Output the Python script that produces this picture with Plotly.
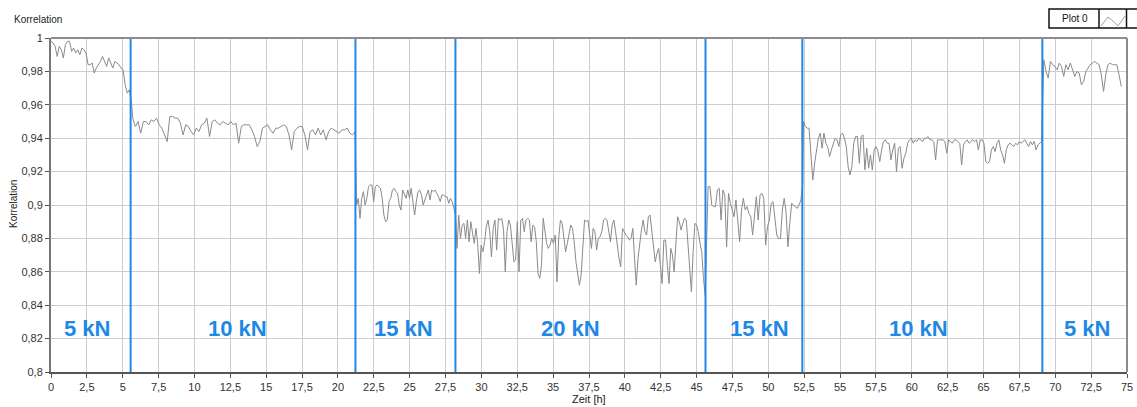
import numpy as np
import plotly.graph_objects as go

# ---------------- data ----------------
# correlation readings per load phase
seg_5kN_a = [0.998, 0.997, 0.995, 0.989, 0.995, 0.993, 0.988, 0.996, 0.998, 0.998, 0.992, 0.994, 0.991, 0.993,
             0.990, 0.994, 0.993, 0.991, 0.984, 0.984, 0.985, 0.979, 0.982, 0.984, 0.986, 0.989, 0.986, 0.983,
             0.988, 0.985, 0.982, 0.986, 0.985, 0.984, 0.982, 0.981, 0.972, 0.967, 0.969, 0.962]
seg_10kN_a = [0.952, 0.947, 0.950, 0.943, 0.950, 0.950, 0.948, 0.951, 0.950, 0.952, 0.948, 0.946, 0.942, 0.938,
              0.953, 0.953, 0.952, 0.952, 0.949, 0.942, 0.948, 0.947, 0.944, 0.942, 0.946, 0.944, 0.948, 0.949,
              0.952, 0.941, 0.950, 0.951, 0.949, 0.948, 0.950, 0.949, 0.948, 0.950, 0.948, 0.949, 0.937, 0.947,
              0.948, 0.948, 0.948, 0.945, 0.941, 0.935, 0.938, 0.946, 0.947, 0.948, 0.945, 0.943, 0.946, 0.946,
              0.947, 0.948, 0.947, 0.942, 0.933, 0.944, 0.946, 0.947, 0.947, 0.942, 0.933, 0.944, 0.945, 0.942,
              0.946, 0.942, 0.945, 0.939, 0.944, 0.946, 0.945, 0.944, 0.943, 0.945, 0.945, 0.946, 0.943, 0.942,
              0.944]
seg_15kN_a = [0.900, 0.904, 0.892, 0.904, 0.908, 0.900, 0.904, 0.911, 0.912, 0.912, 0.902, 0.911, 0.912, 0.911,
              0.910, 0.904, 0.894, 0.890, 0.891, 0.902, 0.904, 0.909, 0.910, 0.908, 0.907, 0.900, 0.897, 0.909,
              0.906, 0.904, 0.909, 0.904, 0.910, 0.900, 0.894, 0.902, 0.908, 0.909, 0.906, 0.900, 0.903, 0.907,
              0.909, 0.903, 0.909, 0.908, 0.909, 0.907, 0.905, 0.902, 0.906, 0.906, 0.905, 0.905, 0.901, 0.904,
              0.902, 0.898, 0.894]
seg_20kN = [0.874, 0.894, 0.880, 0.888, 0.889, 0.880, 0.891, 0.878, 0.890, 0.884, 0.877, 0.886, 0.877, 0.859,
            0.876, 0.872, 0.878, 0.887, 0.891, 0.884, 0.869, 0.886, 0.891, 0.873, 0.892, 0.891, 0.892, 0.885,
            0.860, 0.884, 0.891, 0.888, 0.876, 0.866, 0.867, 0.890, 0.860, 0.891, 0.892, 0.884, 0.891, 0.892,
            0.891, 0.878, 0.888, 0.887, 0.878, 0.859, 0.856, 0.864, 0.892, 0.884, 0.877, 0.874, 0.876, 0.880,
            0.877, 0.882, 0.854, 0.880, 0.891, 0.889, 0.880, 0.872, 0.877, 0.882, 0.888, 0.886, 0.878, 0.866,
            0.858, 0.852, 0.858, 0.876, 0.891, 0.890, 0.891, 0.882, 0.874, 0.886, 0.884, 0.873, 0.880, 0.881,
            0.884, 0.891, 0.892, 0.891, 0.884, 0.878, 0.888, 0.891, 0.884, 0.875, 0.868, 0.863, 0.886, 0.884,
            0.882, 0.881, 0.879, 0.880, 0.886, 0.868, 0.852, 0.868, 0.878, 0.885, 0.891, 0.884, 0.882, 0.893,
            0.894, 0.884, 0.873, 0.866, 0.871, 0.874, 0.864, 0.853, 0.879, 0.879, 0.864, 0.853, 0.874, 0.870,
            0.860, 0.876, 0.893, 0.890, 0.885, 0.889, 0.892, 0.891, 0.876, 0.858, 0.848, 0.872, 0.889, 0.888,
            0.884, 0.877, 0.872, 0.856, 0.846]
seg_15kN_b = [0.911, 0.911, 0.900, 0.899, 0.899, 0.909, 0.910, 0.891, 0.909, 0.906, 0.875, 0.907, 0.901, 0.897,
              0.893, 0.903, 0.891, 0.878, 0.897, 0.904, 0.897, 0.899, 0.895, 0.893, 0.882, 0.896, 0.905, 0.891,
              0.906, 0.907, 0.904, 0.876, 0.887, 0.891, 0.901, 0.902, 0.891, 0.882, 0.880, 0.880, 0.897, 0.904,
              0.896, 0.875, 0.889, 0.901, 0.900, 0.899, 0.898, 0.900, 0.903, 0.913]
seg_10kN_b = [0.950, 0.947, 0.946, 0.946, 0.931, 0.915, 0.925, 0.932, 0.940, 0.943, 0.934, 0.943, 0.937, 0.935,
              0.929, 0.933, 0.937, 0.940, 0.939, 0.935, 0.942, 0.943, 0.940, 0.935, 0.923, 0.918, 0.923, 0.937,
              0.941, 0.941, 0.925, 0.941, 0.942, 0.921, 0.934, 0.922, 0.930, 0.921, 0.933, 0.935, 0.932, 0.926,
              0.933, 0.938, 0.939, 0.937, 0.937, 0.927, 0.933, 0.937, 0.920, 0.934, 0.935, 0.922, 0.928, 0.931,
              0.937, 0.939, 0.940, 0.937, 0.939, 0.938, 0.940, 0.939, 0.938, 0.940, 0.940, 0.941, 0.939, 0.939,
              0.938, 0.927, 0.939, 0.939, 0.939, 0.939, 0.938, 0.931, 0.939, 0.938, 0.937, 0.939, 0.939, 0.938,
              0.937, 0.924, 0.936, 0.938, 0.939, 0.937, 0.938, 0.939, 0.938, 0.939, 0.933, 0.939, 0.939, 0.937,
              0.926, 0.925, 0.926, 0.933, 0.935, 0.932, 0.937, 0.939, 0.933, 0.930, 0.925, 0.933, 0.936, 0.937,
              0.936, 0.935, 0.937, 0.936, 0.938, 0.937, 0.938, 0.939, 0.937, 0.935, 0.938, 0.936, 0.938, 0.933,
              0.936, 0.937, 0.938]
seg_5kN_b = [0.987, 0.980, 0.976, 0.986, 0.984, 0.983, 0.981, 0.985, 0.983, 0.977, 0.984, 0.981, 0.985, 0.981,
             0.977, 0.980, 0.979, 0.972, 0.974, 0.980, 0.982, 0.984, 0.985, 0.986, 0.985, 0.984, 0.978, 0.968,
             0.978, 0.984, 0.985, 0.984, 0.984, 0.984, 0.978, 0.971]

segments = [seg_5kN_a, seg_10kN_a, seg_15kN_a, seg_20kN, seg_15kN_b, seg_10kN_b, seg_5kN_b]
seg_start_h = [0.0, 5.7, 21.3, 28.3, 45.8, 52.45, 69.2]   # first reading of each phase [h]
seg_end_h = [5.6, 21.2, 28.2, 45.6, 52.4, 69.05, 74.6]    # last reading of each phase [h]

change_times = [5.55, 21.22, 28.19, 45.62, 52.37, 69.1]   # load changes [h]
phase_labels = ["5 kN", "10 kN", "15 kN", "20 kN", "15 kN", "10 kN", "5 kN"]
label_x = [2.5, 13.0, 24.6, 36.2, 49.4, 60.45, 72.2]
label_y = 0.826

# ---------------- build ----------------
t_all, v_all = [], []
for vals, t0, t1 in zip(segments, seg_start_h, seg_end_h):
    t_all.extend(np.linspace(t0, t1, len(vals)).tolist())
    v_all.extend(vals)

FONT = "Liberation Sans, Arial, sans-serif"
BLUE = "#1e88e5"
W, H = 1137, 407
ML, MR, MT, MB = 51, 10, 38, 35
PW, PH = W - ML - MR, H - MT - MB


def px_x(p):
    return (p - ML) / PW


def px_y(p):
    return (H - MB - p) / PH


fig = go.Figure()
fig.add_trace(go.Scatter(x=t_all, y=v_all, mode="lines",
                         line=dict(color="#8a8a8a", width=1), name="Plot 0",
                         hoverinfo="x+y"))

shapes = []
for ct in change_times:
    shapes.append(dict(type="line", xref="x", yref="paper", x0=ct, x1=ct, y0=0, y1=1,
                       line=dict(color=BLUE, width=2), layer="above"))
# top / right frame
shapes.append(dict(type="line", xref="paper", yref="paper", x0=0, x1=1, y0=1, y1=1,
                   line=dict(color="#8c8c8c", width=2), layer="above"))
shapes.append(dict(type="line", xref="paper", yref="paper", x0=1, x1=1, y0=0, y1=1,
                   line=dict(color="#8c8c8c", width=2), layer="above"))
# legend box
shapes.append(dict(type="rect", xref="paper", yref="paper",
                   x0=px_x(1049), x1=px_x(1142), y0=px_y(28), y1=px_y(9),
                   line=dict(color="#111", width=1.5), fillcolor="white", layer="above"))
shapes.append(dict(type="line", xref="paper", yref="paper",
                   x0=px_x(1099), x1=px_x(1099), y0=px_y(28), y1=px_y(9),
                   line=dict(color="#111", width=1.5), layer="above"))
shapes.append(dict(type="line", xref="paper", yref="paper",
                   x0=px_x(1126.5), x1=px_x(1126.5), y0=px_y(28), y1=px_y(9),
                   line=dict(color="#111", width=1.5), layer="above"))
icon = [(1101, 26), (1108, 17), (1113, 21), (1118, 26), (1125, 16)]
path = "M " + " L ".join(f"{px_x(a):.5f},{px_y(b):.5f}" for a, b in icon)
shapes.append(dict(type="path", xref="paper", yref="paper", path=path,
                   line=dict(color="#a0a0a0", width=1), layer="above"))

annotations = []
for lx, lab in zip(label_x, phase_labels):
    annotations.append(dict(x=lx, y=label_y, xref="x", yref="y", text=f"<b>{lab}</b>",
                            showarrow=False, font=dict(family=FONT, size=22, color=BLUE),
                            xanchor="center", yanchor="middle"))
annotations.append(dict(x=px_x(12), y=px_y(20), xref="paper", yref="paper", text="Korrelation",
                        showarrow=False, font=dict(family=FONT, size=10, color="#222"),
                        xanchor="left", yanchor="middle"))
annotations.append(dict(x=px_x(13), y=px_y(204), xref="paper", yref="paper", text="Korrelation",
                        showarrow=False, textangle=-90, font=dict(family=FONT, size=10, color="#222"),
                        xanchor="center", yanchor="middle"))
annotations.append(dict(x=px_x(589), y=px_y(399), xref="paper", yref="paper", text="Zeit [h]",
                        showarrow=False, font=dict(family=FONT, size=11, color="#222"),
                        xanchor="center", yanchor="middle"))
annotations.append(dict(x=px_x(1075), y=px_y(18.5), xref="paper", yref="paper", text="Plot 0",
                        showarrow=False, font=dict(family=FONT, size=10, color="#111"),
                        xanchor="center", yanchor="middle"))

fig.update_layout(
    width=W, height=H,
    margin=dict(l=ML, r=MR, t=MT, b=MB, pad=0, autoexpand=False),
    plot_bgcolor="white", paper_bgcolor="white",
    separators=",.",
    showlegend=False,
    font=dict(family=FONT, size=11, color="#333"),
    shapes=shapes,
    annotations=annotations,
    xaxis=dict(range=[0, 75], tick0=0, dtick=2.5, showgrid=True, gridcolor="#cdcdcd", gridwidth=1,
               showline=True, linecolor="#555", linewidth=2, ticks="outside", ticklen=4,
               tickcolor="#555", zeroline=False, automargin=False,
               tickfont=dict(family=FONT, size=11, color="#333")),
    yaxis=dict(range=[0.8, 1.0], tick0=0.8, dtick=0.02, showgrid=True, gridcolor="#cdcdcd", gridwidth=1,
               showline=True, linecolor="#777", linewidth=2, ticks="outside", ticklen=4,
               tickcolor="#555", zeroline=False, automargin=False,
               tickfont=dict(family=FONT, size=11, color="#333")),
)

fig.write_html("out.html", config={"displayModeBar": False},
               post_script="document.body.style.margin='0';document.body.style.overflow='hidden';")
